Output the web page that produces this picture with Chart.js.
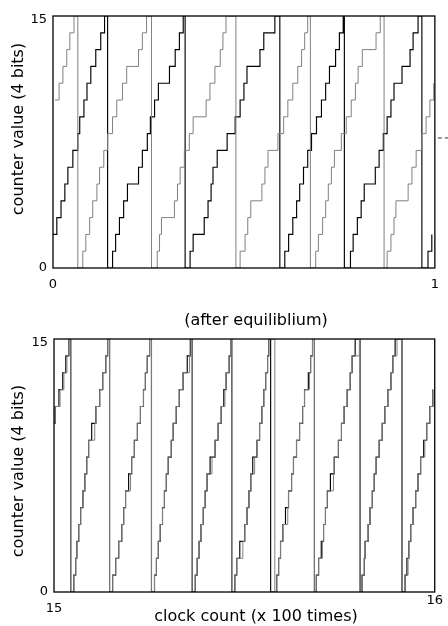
<!DOCTYPE html>
<html>
<head>
<meta charset="utf-8">
<script src="https://cdn.jsdelivr.net/npm/chart.js@4"></script>
<style>
  html, body { margin: 0; padding: 0; background: #fff; }
  #wrap { position: relative; width: 448px; height: 626px; }
  canvas { position: absolute; left: 0; }
</style>
</head>
<body>
<div id="wrap">
  <canvas id="topChart" width="448" height="300" style="top:0"></canvas>
  <canvas id="bottomChart" width="448" height="326" style="top:300px"></canvas>
</div>
<script>
// clock counts at which each counter changes value, and the value it takes
// top panel: clocks 0..100
const topGrayT = [
  0.5,1.6,2.6,3.6,4.4,5.5,
  6.5,7.8,8.6,9.6,10.4,11.5,12.2,13.3,14.3,15.6,16.7,18.2,19.3,22.4,23.4,24.5,
  25.8,27.3,27.9,28.4,31.8,32.6,33.3,34.4,35.7,36.7,40.1,41.1,42.4,43.8,44.5,45.3,
  47.9,49.0,50.3,51.0,51.8,54.7,55.5,56.3,58.9,60.4,61.5,62.8,64.1,65.1,65.9,66.7,
  67.4,68.8,69.5,70.6,71.4,72.1,72.9,73.7,75.5,76.8,78.1,79.2,79.9,81.0,84.6,85.7,
  86.7,87.5,88.5,89.3,89.8,93.0,94.0,95.1,96.6,97.7,98.7,99.7
];
const topGrayV = [
  10,11,12,13,14,15,
  0,1,2,3,4,5,6,7,8,9,10,11,12,13,14,15,
  0,1,2,3,4,5,6,7,8,9,10,11,12,13,14,15,
  0,1,2,3,4,5,6,7,8,9,10,11,12,13,14,15,
  0,1,2,3,4,5,6,7,8,9,10,11,12,13,14,15,
  0,1,2,3,4,5,6,7,8,9,10,11
];
const topBlackT = [
  0,1.0,2.1,3.1,3.9,5.2,6.5,7.0,8.1,8.9,9.9,11.2,12.5,13.5,
  14.3,15.6,16.4,17.4,18.5,19.5,22.4,23.4,24.7,25.5,26.6,27.6,30.5,32.0,33.1,34.1,
  34.6,35.9,36.7,39.6,40.6,41.4,41.9,43.0,45.6,47.7,49.0,50.0,50.8,54.2,55.2,58.1,
  59.4,60.7,61.7,62.8,63.8,64.6,65.6,66.7,67.7,69.0,70.3,71.4,72.4,74.0,75.0,76.0,
  76.3,77.9,78.6,79.7,80.7,81.5,84.4,85.4,86.5,87.5,88.5,89.3,91.4,93.5,94.3,95.6,
  96.6,98.2,99.2
];
const topBlackV = [
  2,3,4,5,6,7,8,9,10,11,12,13,14,15,
  0,1,2,3,4,5,6,7,8,9,10,11,12,13,14,15,
  0,1,2,3,4,5,6,7,8,9,10,11,12,13,14,15,
  0,1,2,3,4,5,6,7,8,9,10,11,12,13,14,15,
  0,1,2,3,4,5,6,7,8,9,10,11,12,13,14,15,
  0,1,2
];

// bottom panel: clocks counted from 1500
const bottomStart = 1500;
const bottomBlackT = [
  0.0,0.3,1.3,2.3,3.1,3.9,
  4.4,5.2,5.7,6.0,6.5,7.0,7.6,8.1,8.6,9.1,9.9,11.0,12.0,12.8,13.6,14.1,
  14.6,15.4,16.2,17.0,17.8,18.3,18.8,19.6,20.4,21.1,21.9,22.7,23.5,24.0,24.5,25.1,
  25.6,26.4,26.9,27.4,27.9,28.5,29.0,29.5,30.0,30.8,31.3,32.1,32.9,33.9,35.0,35.8,
  36.3,37.1,37.6,38.1,38.6,39.2,39.7,40.2,41.0,42.3,43.1,43.9,44.6,45.2,46.0,46.5,
  46.7,47.5,48.0,48.8,50.1,50.7,51.2,51.7,52.2,53.3,54.0,54.6,55.1,55.6,56.1,56.4,
  56.9,58.5,59.0,59.5,60.1,60.8,61.6,62.4,62.9,63.7,64.5,65.3,65.8,66.8,67.4,67.9,
  68.4,68.9,69.5,70.2,70.8,71.3,71.8,72.6,73.6,74.7,75.5,76.2,77.0,77.8,78.3,79.1,
  80.4,80.9,81.5,81.7,82.5,83.0,83.6,84.1,84.6,85.4,86.2,86.9,87.7,88.5,89.0,89.6,
  91.4,92.2,92.7,93.2,93.7,94.3,95.0,95.6,96.3,97.1,97.9,98.7,99.5
];
const bottomGrayT = [
  0.0,0.3,1.6,2.6,3.4,3.9,
  4.4,5.2,5.7,6.0,6.5,7.0,7.6,8.1,8.6,9.1,10.7,11.0,12.0,12.8,13.6,14.1,
  14.6,15.4,16.2,17.0,17.8,18.3,18.8,20.1,20.4,21.1,21.9,22.7,23.5,24.0,24.5,25.1,
  25.6,26.4,26.9,27.4,27.9,28.5,29.0,29.5,30.0,30.8,31.3,32.1,32.9,33.9,35.6,36.0,
  36.3,37.1,37.6,38.1,38.6,39.2,39.7,40.2,41.5,42.3,43.1,43.9,44.9,45.2,46.0,46.5,
  46.7,47.5,48.0,49.6,50.1,50.7,51.2,51.7,52.7,53.3,54.0,54.6,55.1,55.6,56.1,56.4,
  58.0,58.5,59.0,59.5,60.1,61.4,61.6,62.4,62.9,63.7,64.5,65.3,65.8,67.1,67.4,67.9,
  68.4,68.9,69.5,70.5,70.8,71.3,71.8,73.4,73.6,74.7,75.5,76.2,77.0,77.8,78.3,80.2,
  80.4,80.9,81.5,81.7,82.5,83.0,83.6,84.1,84.6,85.4,86.2,86.9,87.7,88.5,89.0,90.1,
  91.4,92.2,93.0,93.2,93.7,94.3,95.0,95.6,96.3,97.4,97.9,98.7,99.5
];
// both bottom counters run through the same sequence of values
const bottomV = [
  10,11,12,13,14,15,
  0,1,2,3,4,5,6,7,8,9,10,11,12,13,14,15,
  0,1,2,3,4,5,6,7,8,9,10,11,12,13,14,15,
  0,1,2,3,4,5,6,7,8,9,10,11,12,13,14,15,
  0,1,2,3,4,5,6,7,8,9,10,11,12,13,14,15,
  0,1,2,3,4,5,6,7,8,9,10,11,12,13,14,15,
  0,1,2,3,4,5,6,7,8,9,10,11,12,13,14,15,
  0,1,2,3,4,5,6,7,8,9,10,11,12,13,14,15,
  0,1,2,3,4,5,6,7,8,9,10,11,12,13,14,15,
  0,1,2,3,4,5,6,7,8,9,10,11,12
];
const yTicks = [0, 15];

Chart.defaults.font.family = '"DejaVu Sans", sans-serif';
Chart.defaults.color = '#000';

function toPoints(times, values, offset) {
  return times.map((t, i) => ({ x: t + offset, y: values[i] }));
}

// frame box, free text and the small dashed mark on the right
const panelDecor = {
  id: 'panelDecor',
  afterDraw(chart, args, opts) {
    const ctx = chart.ctx;
    const a = chart.chartArea;
    ctx.save();
    ctx.strokeStyle = '#000';
    ctx.lineWidth = 1.3;
    ctx.strokeRect(a.left, a.top, a.right - a.left, a.bottom - a.top);

    if (opts.mark !== undefined) {
      const y = chart.scales.y.getPixelForValue(opts.mark);
      ctx.setLineDash([4, 3]);
      ctx.lineWidth = 1;
      ctx.strokeStyle = '#333';
      ctx.beginPath();
      ctx.moveTo(a.right + 3, y);
      ctx.lineTo(chart.width, y);
      ctx.stroke();
      ctx.setLineDash([]);
    }

    ctx.fillStyle = '#000';
    ctx.font = '16px "DejaVu Sans", sans-serif';
    (opts.texts || []).forEach(t => {
      ctx.save();
      ctx.translate(t.x, t.y);
      if (t.rotate) ctx.rotate(-Math.PI / 2);
      ctx.textAlign = 'center';
      ctx.textBaseline = 'middle';
      ctx.fillText(t.text, 0, 0);
      ctx.restore();
    });
    ctx.restore();
  }
};

function makePanel(canvasId, p) {
  return new Chart(document.getElementById(canvasId), {
    type: 'line',
    data: {
      datasets: [
        {
          data: p.gray,
          borderColor: '#808080',
          borderWidth: 1,
          pointRadius: 0,
          stepped: 'before',
          fill: false
        },
        {
          data: p.black,
          borderColor: '#000',
          borderWidth: 1.15,
          pointRadius: 0,
          stepped: 'before',
          fill: false
        }
      ]
    },
    options: {
      responsive: false,
      animation: false,
      devicePixelRatio: 1,
      layout: { padding: { left: 0, right: 11, top: p.padTop, bottom: 0 } },
      plugins: {
        legend: { display: false },
        tooltip: { enabled: false },
        panelDecor: { texts: p.texts, mark: p.mark }
      },
      scales: {
        x: {
          type: 'linear',
          min: p.xMin,
          max: p.xMax,
          grid: { display: false, drawTicks: false },
          border: { display: false },
          afterBuildTicks: s => { s.ticks = [{ value: p.xMin }, { value: p.xMax }]; },
          afterFit: s => { s.height = p.xHeight; },
          ticks: {
            autoSkip: false,
            maxRotation: 0,
            padding: p.xPad,
            font: p.xFont,
            callback: p.xLabel
          }
        },
        y: {
          min: 0,
          max: 15,
          grid: { display: false, drawTicks: false },
          border: { display: false },
          afterBuildTicks: s => { s.ticks = yTicks.map(v => ({ value: v })); },
          afterFit: s => { s.width = p.yWidth; },
          ticks: {
            padding: 6,
            font: { size: 13, lineHeight: '8px' },
            // top label hangs a little below its tick
            callback: v => v === 15 ? ['', '15'] : String(v)
          }
        }
      }
    },
    plugins: [panelDecor]
  });
}

makePanel('topChart', {
  gray: toPoints(topGrayT, topGrayV, 0),
  black: toPoints(topBlackT, topBlackV, 0),
  xMin: 0, xMax: 100,
  padTop: 16, xHeight: 32, yWidth: 53,
  xPad: 9,
  xFont: { size: 13 },
  xLabel: v => String(v / 100),
  mark: 7.74,
  texts: [
    { text: 'counter value (4 bits)', x: 19, y: 129, rotate: true }
  ]
});

makePanel('bottomChart', {
  gray: toPoints(bottomGrayT, bottomV, bottomStart),
  black: toPoints(bottomBlackT, bottomV, bottomStart),
  xMin: bottomStart, xMax: bottomStart + 100,
  padTop: 39, xHeight: 34, yWidth: 54,
  xPad: 5,
  xFont: { size: 13, lineHeight: '8px' },
  // the left label sits one line lower than the right one
  xLabel: v => v === bottomStart ? ['', String(v / 100)] : String(v / 100),
  texts: [
    { text: '(after equiliblium)', x: 256, y: 21 },
    { text: 'counter value (4 bits)', x: 19, y: 171, rotate: true },
    { text: 'clock count (x 100 times)', x: 256, y: 317 }
  ]
});
</script>
</body>
</html>
